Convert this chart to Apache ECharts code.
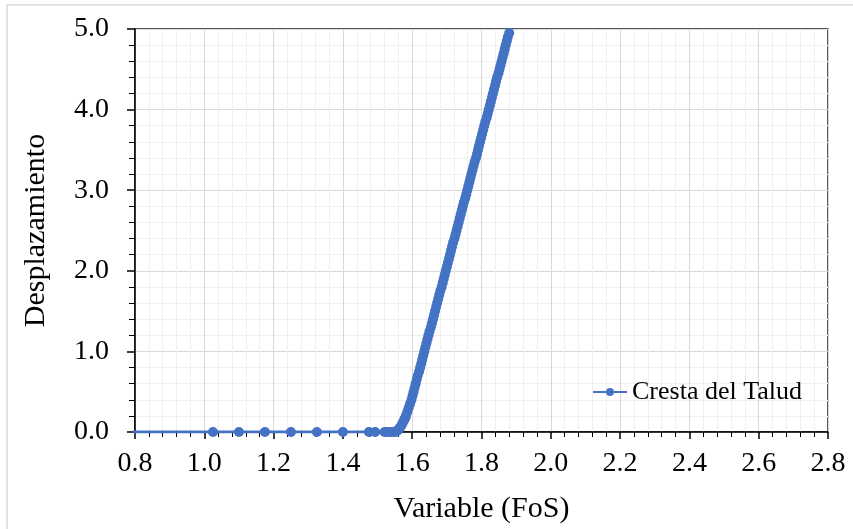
<!DOCTYPE html>
<html>
<head>
    <meta charset="utf-8">
    <script type="text/javascript" src="https://cdn.jsdelivr.net/npm/echarts@6/dist/echarts.min.js"></script>
    <style>
        html, body { margin: 0; padding: 0; background: #fff; }
    </style>
</head>
<body>
<div id="main" style="width:853px;height:529px"></div>
<script type="text/javascript">
    // tramo plano (y = 0)
    var fosFlat = [0.725, 1.025, 1.1, 1.175, 1.25, 1.325, 1.4, 1.475, 1.493, 1.52, 1.527, 1.535, 1.54, 1.545];
    var despFlat = [0, 0, 0, 0, 0, 0, 0, 0, 0, 0, 0, 0, 0, 0];
    // pie de la curva
    var fosFoot = [1.552, 1.555, 1.558, 1.561, 1.564, 1.568, 1.571, 1.574, 1.577, 1.580, 1.582, 1.586, 1.590, 1.594];
    var despFoot = [0, 0.01, 0.02, 0.035, 0.05, 0.075, 0.1, 0.125, 0.15, 0.175, 0.2, 0.25, 0.3, 0.35];
    // tramo de subida
    var fosRise = [1.598, 1.601, 1.604, 1.607, 1.610, 1.613, 1.616, 1.620, 1.623, 1.626,
        1.629, 1.632, 1.635, 1.638, 1.641, 1.644, 1.647, 1.650, 1.654, 1.657,
        1.660, 1.663, 1.666, 1.669, 1.672, 1.675, 1.678, 1.681, 1.685, 1.688,
        1.691, 1.694, 1.697, 1.700, 1.703, 1.706, 1.709, 1.712, 1.715, 1.718,
        1.722, 1.725, 1.728, 1.731, 1.734, 1.737, 1.740, 1.743, 1.746, 1.749,
        1.753, 1.756, 1.759, 1.762, 1.765, 1.768, 1.771, 1.774, 1.777, 1.780,
        1.784, 1.787, 1.790, 1.793, 1.796, 1.799, 1.802, 1.805, 1.808, 1.811,
        1.815, 1.818, 1.821, 1.824, 1.827, 1.830, 1.833, 1.836, 1.839, 1.842,
        1.845, 1.849, 1.852, 1.855, 1.858, 1.861, 1.864, 1.867, 1.870, 1.873,
        1.876, 1.880];
    var despRise = [0.40, 0.45, 0.50, 0.55, 0.60, 0.65, 0.70, 0.75, 0.80, 0.85,
        0.90, 0.95, 1.00, 1.05, 1.10, 1.15, 1.20, 1.25, 1.30, 1.35,
        1.40, 1.45, 1.50, 1.55, 1.60, 1.65, 1.70, 1.75, 1.80, 1.85,
        1.90, 1.95, 2.00, 2.05, 2.10, 2.15, 2.20, 2.25, 2.30, 2.35,
        2.40, 2.45, 2.50, 2.55, 2.60, 2.65, 2.70, 2.75, 2.80, 2.85,
        2.90, 2.95, 3.00, 3.05, 3.10, 3.15, 3.20, 3.25, 3.30, 3.35,
        3.40, 3.45, 3.50, 3.55, 3.60, 3.65, 3.70, 3.75, 3.80, 3.85,
        3.90, 3.95, 4.00, 4.05, 4.10, 4.15, 4.20, 4.25, 4.30, 4.35,
        4.40, 4.45, 4.50, 4.55, 4.60, 4.65, 4.70, 4.75, 4.80, 4.85,
        4.90, 4.95];

    var fos = fosFlat.concat(fosFoot, fosRise);
    var desp = despFlat.concat(despFoot, despRise);
    var data = [];
    for (var i = 0; i < fos.length; i++) {
        data.push([fos[i], desp[i]]);
    }

    var font = 'Liberation Serif';
    var myChart = echarts.init(document.getElementById('main'));
    var option = {
        backgroundColor: '#fff',
        animation: false,
        graphic: [{
            type: 'rect',
            shape: {x: 7, y: 5, width: 860, height: 540},
            style: {fill: 'none', stroke: '#e3e3e3', lineWidth: 2},
            silent: true
        }],
        grid: {
            left: 135, right: 25, top: 29, bottom: 97,
            show: true, borderColor: '#222', borderWidth: 1.5
        },
        legend: {
            left: 587, top: 374,
            itemWidth: 34, itemHeight: 10, itemGap: 4,
            textStyle: {fontFamily: font, fontSize: 26, color: '#000'},
            data: ['Cresta del Talud']
        },
        xAxis: {
            type: 'value', min: 0.8, max: 2.8, interval: 0.2,
            name: 'Variable (FoS)', nameLocation: 'middle', nameGap: 62,
            nameTextStyle: {fontFamily: font, fontSize: 30, color: '#000'},
            axisLine: {onZero: false, lineStyle: {color: '#000', width: 1.5}},
            axisTick: {show: true, inside: false, length: 7, lineStyle: {color: '#000', width: 1.5}},
            minorTick: {show: true, splitNumber: 5, length: 5, lineStyle: {color: '#000', width: 1}},
            axisLabel: {fontFamily: font, fontSize: 28, color: '#000', margin: 18,
                formatter: function (v) { return v.toFixed(1); }},
            splitLine: {show: true, lineStyle: {color: '#d9d9d9', width: 1}},
            minorSplitLine: {show: true, lineStyle: {color: '#f0f0f0', width: 1}}
        },
        yAxis: {
            type: 'value', min: 0, max: 5, interval: 1,
            name: 'Desplazamiento', nameLocation: 'middle', nameGap: 84,
            nameTextStyle: {fontFamily: font, fontSize: 30, color: '#000'},
            axisLine: {show: true, lineStyle: {color: '#000', width: 1.5}},
            axisTick: {show: true, inside: false, length: 8, lineStyle: {color: '#000', width: 1.5}},
            minorTick: {show: true, splitNumber: 5, length: 6, lineStyle: {color: '#000', width: 1}},
            axisLabel: {fontFamily: font, fontSize: 28, color: '#000', margin: 26,
                formatter: function (v) { return v.toFixed(1); }},
            splitLine: {show: true, lineStyle: {color: '#d9d9d9', width: 1}},
            minorSplitLine: {show: true, lineStyle: {color: '#f0f0f0', width: 1}}
        },
        series: [{
            name: 'Cresta del Talud',
            type: 'line',
            data: data,
            clip: true,
            symbol: 'circle',
            symbolSize: 10,
            showAllSymbol: true,
            color: '#4472c4',
            itemStyle: {color: '#4472c4'},
            lineStyle: {color: '#4472c4', width: 3}
        }]
    };
    myChart.setOption(option);
</script>
</body>
</html>
